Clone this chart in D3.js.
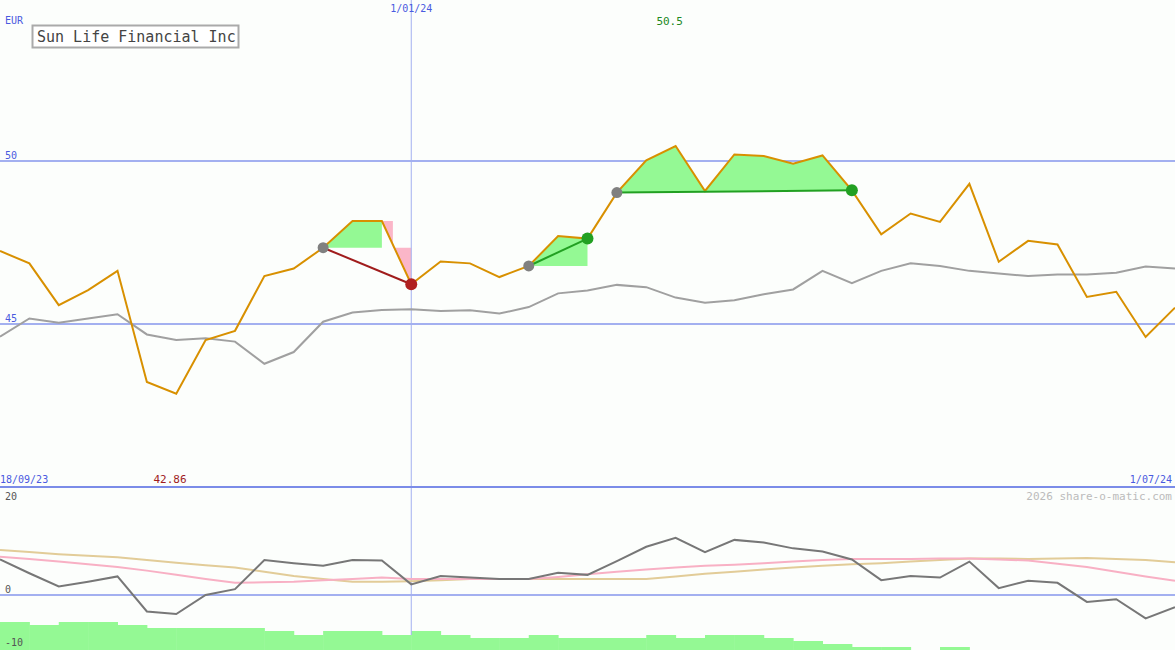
<!DOCTYPE html>
<html><head><meta charset="utf-8">
<script src="https://cdn.jsdelivr.net/npm/d3@7"></script>
<style>body{margin:0;background:#fcfefc}text{font-family:"DejaVu Sans Mono",monospace}</style>
</head><body><svg id="c" width="1175" height="650"></svg>
<script>
// weekly points, 18/09/23 .. 1/07/24
var price = [47.24,46.86,45.58,46.04,46.63,43.22,42.86,44.51,44.79,46.47,46.70,47.34,48.16,48.16,46.22,46.92,46.86,46.44,46.78,47.70,47.62,
  49.03,50.02,50.46,49.08,50.20,50.15,49.92,50.17,49.10,47.75,48.39,48.13,49.30,46.91,47.55,47.44,45.83,45.99,44.60,45.50];
var avg = [44.61,45.17,45.04,45.17,45.30,44.68,44.51,44.56,44.46,43.78,44.14,45.07,45.35,45.43,45.45,45.40,45.42,45.32,45.52,45.94,46.03,
  46.20,46.13,45.81,45.65,45.73,45.91,46.06,46.63,46.25,46.63,46.86,46.78,46.63,46.55,46.47,46.52,46.52,46.57,46.76,46.70];
var osc = [6.7,4.1,1.6,2.5,3.5,-3.1,-3.6,0,1.1,6.6,6.0,5.5,6.6,6.5,2.0,3.6,3.3,3.0,3.0,4.2,3.8,
  6.4,9.1,10.8,8.1,10.4,9.9,8.8,8.2,6.7,2.8,3.6,3.3,6.3,1.3,2.7,2.3,-1.3,-0.8,-4.4,-2.3];
var sig = [7.2,6.8,6.3,5.8,5.3,4.6,3.8,3.0,2.3,2.4,2.5,2.8,3.0,3.3,3.0,3.0,3.0,3.0,3.0,3.4,3.9,
  4.4,4.8,5.2,5.5,5.7,6.0,6.3,6.6,6.8,6.8,6.8,6.9,6.9,6.7,6.5,5.9,5.3,4.4,3.5,2.7];
var slow = [8.5,8.1,7.7,7.4,7.1,6.6,6.1,5.6,5.2,4.4,3.6,3.0,2.5,2.5,2.6,2.8,3.0,3.0,3.0,3.0,3.0,
  3.0,3.0,3.5,4.0,4.4,4.8,5.2,5.5,5.8,6.0,6.3,6.6,6.9,6.9,6.8,6.9,7.0,6.8,6.6,6.2];
var vol = [28,25,28,28,25,22,22,22,22,19,15,19,19,15,19,15,12,12,15,12,12,
  12,15,12,15,15,12,9,6,3,3,0,3,0,0,0,0,0,0,0];
var trends = [{a:11,b:14,up:false},{a:18,b:20,up:true},{a:21,b:29,up:true}];
var priceTicks = [50,45], oscTicks = [20,0,-10];

var svg = d3.select("#c");
var x = d3.scaleLinear().domain([0, price.length-1]).range([0,1175]);
var y = d3.scaleLinear().domain([45,50]).range([324,161]);
var y2 = d3.scaleLinear().domain([0,10]).range([595,542]);
var yv = d3.scaleLinear().domain([0,30]).range([650,620]);
var blue = "#a3b0f0";

svg.selectAll(".g1").data(priceTicks).enter().append("line")
  .attr("x1",0).attr("x2",1175).attr("y1",y).attr("y2",y).attr("stroke",blue).attr("stroke-width",2);
svg.selectAll(".t1").data(priceTicks).enter().append("text")
  .attr("x",5).attr("y",function(d){return y(d)-2;}).attr("font-size",10).attr("fill","#4a5ae0").text(function(d){return d;});

// volume bars
svg.selectAll(".v").data(vol).enter().append("rect")
  .attr("x",function(d,i){return x(i);}).attr("width",x(1)-x(0)+0.5)
  .attr("y",function(d){return yv(d);}).attr("height",function(d){return 650-yv(d);}).attr("fill","#94f994");

// trend fills
var lineP = d3.line().x(function(d){return x(d[0]);}).y(function(d){return y(d[1]);});
trends.forEach(function(t){
  var base = function(i){ return price[t.a] + (price[t.b]-price[t.a])*(i-t.a)/(t.b-t.a); };
  if (t.up) {
    var pts = [];
    for (var i=t.a;i<=t.b;i++) pts.push([i,price[i]]);
    var end = t.b-t.a>3 ? base(t.b) : price[t.a];
    pts.push([t.b,end]); pts.push([t.a,price[t.a]]);
    svg.append("path").attr("d",lineP(pts)+"Z").attr("fill","#94f994");
  } else {
    var pts = [[t.a,price[t.a]],[t.a+1,price[t.a+1]],[t.a+2,price[t.a+2]],[t.a+2,price[t.a]]];
    svg.append("path").attr("d",lineP(pts)+"Z").attr("fill","#94f994");
    var x3 = x(t.a+2), x4 = x(t.b);
    svg.append("path").attr("fill","#fbb6c8")
      .attr("d","M"+x3+","+y(price[t.a+2])+"L"+(x3+11)+","+y(price[t.a+2])+"L"+(x3+11)+","+y(price[t.a])+"L"+x4+","+y(price[t.a])+"L"+x4+","+y(price[t.b])+"Z");
  }
});

// vertical date line
svg.append("line").attr("x1",x(14)).attr("x2",x(14)).attr("y1",0).attr("y2",635).attr("stroke",blue).attr("stroke-width",1);

var line = d3.line().x(function(d,i){return x(i);});
svg.append("path").datum(avg).attr("d",line.y(y)).attr("fill","none").attr("stroke","#a0a0a0").attr("stroke-width",2);
svg.append("path").datum(price).attr("d",line.y(y)).attr("fill","none").attr("stroke","#d89000").attr("stroke-width",2);

trends.forEach(function(t){
  var c = t.up ? "#22a022" : "#a01c1c";
  svg.append("line").attr("x1",x(t.a)).attr("y1",y(price[t.a])).attr("x2",x(t.b)).attr("y2",y(price[t.b]))
    .attr("stroke",c).attr("stroke-width",2);
  svg.append("circle").attr("cx",x(t.a)).attr("cy",y(price[t.a])).attr("r",5.5).attr("fill","#808080");
  svg.append("circle").attr("cx",x(t.b)).attr("cy",y(price[t.b])).attr("r",6).attr("fill",t.up?"#22a022":"#b02020");
});

// separator
svg.append("line").attr("x1",0).attr("x2",1175).attr("y1",487).attr("y2",487).attr("stroke","#7b8ce8").attr("stroke-width",2);

// lower panel
svg.append("line").attr("x1",0).attr("x2",1175).attr("y1",y2(0)).attr("y2",y2(0)).attr("stroke",blue).attr("stroke-width",2);
svg.selectAll(".t2").data(oscTicks).enter().append("text")
  .attr("x",5).attr("y",function(d){return d==20?500:y2(d)-2;}).attr("font-size",10).attr("fill","#555").text(function(d){return d;});
svg.append("path").datum(slow).attr("d",line.y(y2)).attr("fill","none").attr("stroke","#e2cc98").attr("stroke-width",2);
svg.append("path").datum(sig).attr("d",line.y(y2)).attr("fill","none").attr("stroke","#f8b0c4").attr("stroke-width",2);
svg.append("path").datum(osc).attr("d",line.y(y2)).attr("fill","none").attr("stroke","#777").attr("stroke-width",2);

// labels
function t(xp,yp,s,c,anchor,size){ svg.append("text").attr("x",xp).attr("y",yp).attr("fill",c).attr("font-size",size||10).attr("text-anchor",anchor||"start").text(s); }
t(5,24,"EUR","#4a5ae0");
t(x(14),12,"1/01/24","#4a5ae0","middle");
t(x(23)-6,25,d3.max(price).toFixed(1),"#228822","middle",11);
t(0,483,"18/09/23","#4a5ae0");
t(170,483,d3.min(price).toFixed(2),"#a01c1c","middle",11);
t(1172,483,"1/07/24","#4a5ae0","end");
t(1172,500,"2026 share-o-matic.com","#bbb","end",11);
svg.append("rect").attr("x",32.5).attr("y",25.5).attr("width",206).attr("height",22).attr("fill","#fff").attr("stroke","#aaa").attr("stroke-width",2);
t(37,42,"Sun Life Financial Inc","#444","start",15);
</script></body></html>
